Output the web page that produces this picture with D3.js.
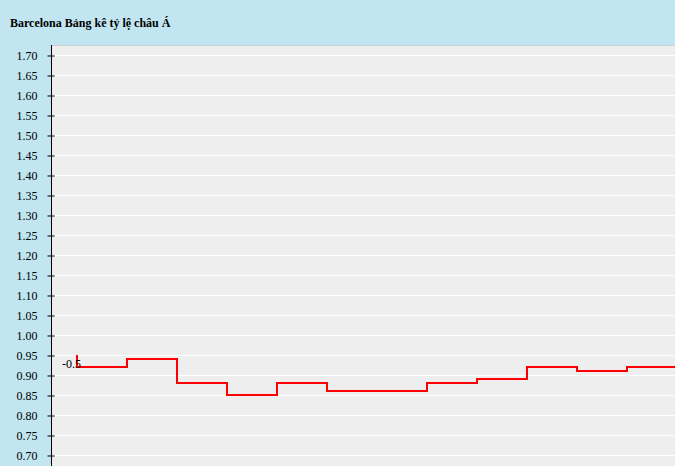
<!DOCTYPE html>
<html>
<head>
<meta charset="utf-8">
<script src="https://cdn.jsdelivr.net/npm/d3@7"></script>
<style>
  html, body { margin: 0; padding: 0; }
  body { width: 675px; height: 466px; overflow: hidden; background: #c1e6f1; }
  svg { display: block; }
</style>
</head>
<body>
<svg id="chart" width="675" height="466"></svg>
<script>
// ---- data ----
const chartTitle = "Barcelona Bảng kê tỷ lệ châu Á";
const handicapLabels = ["-0.5"];
const stepIndex = [0, 1, 2, 3, 4, 5, 6, 7, 8, 9, 10, 11, 12];
const oddsValues = [0.95, 0.92, 0.94, 0.88, 0.85, 0.88, 0.86, 0.86, 0.88, 0.89, 0.92, 0.91, 0.92];
const yTickValues = [0.70, 0.75, 0.80, 0.85, 0.90, 0.95, 1.00, 1.05, 1.10, 1.15, 1.20, 1.25, 1.30, 1.35, 1.40, 1.45, 1.50, 1.55, 1.60, 1.65, 1.70];

// ---- layout ----
const W = 675, H = 466;
const plotLeft = 52, plotTop = 45;
const svg = d3.select("#chart");

// header title
svg.append("text")
  .attr("x", 10).attr("y", 27)
  .attr("font-family", "'Liberation Serif', 'Times New Roman', serif")
  .attr("font-weight", "bold").attr("font-size", 12)
  .attr("fill", "#000")
  .text(chartTitle);

// plot background
svg.append("rect")
  .attr("x", plotLeft).attr("y", plotTop)
  .attr("width", W - plotLeft).attr("height", H - plotTop)
  .attr("fill", "#eeeeee");
svg.append("line")
  .attr("x1", plotLeft).attr("x2", W)
  .attr("y1", plotTop + 0.5).attr("y2", plotTop + 0.5)
  .attr("stroke", "#c8cfd2").attr("stroke-width", 1);

// scales
const y = d3.scaleLinear().domain([0.70, 1.70]).range([455, 55]);
const x = d3.scaleLinear().domain([0, 12]).range([77, 677]);

// gridlines
svg.append("g").selectAll("line")
  .data(yTickValues)
  .join("line")
  .attr("x1", plotLeft).attr("x2", W)
  .attr("y1", d => Math.round(y(d)) + 0.5).attr("y2", d => Math.round(y(d)) + 0.5)
  .attr("stroke", "#ffffff").attr("stroke-width", 1);

// y axis
const axisG = svg.append("g")
  .attr("transform", "translate(51.5,0.5)")
  .call(d3.axisLeft(y).tickValues(yTickValues).tickFormat(d3.format(".2f")).tickSize(4).tickPadding(10));
axisG.select(".domain").remove();
axisG.selectAll(".tick line").attr("x1", -4).attr("x2", 3).attr("stroke", "#000");
axisG.selectAll(".tick text")
  .attr("font-family", "'Liberation Serif', 'Times New Roman', serif")
  .attr("font-size", 12).attr("fill", "#000");
svg.append("line")
  .attr("x1", 51.5).attr("x2", 51.5)
  .attr("y1", plotTop).attr("y2", H)
  .attr("stroke", "#000").attr("stroke-width", 1);

// step line
const line = d3.line()
  .x((d, i) => x(stepIndex[i]))
  .y(d => y(d))
  .curve(d3.curveStepBefore);
svg.append("path")
  .datum(oddsValues)
  .attr("d", line)
  .attr("fill", "none")
  .attr("stroke", "#ff0000")
  .attr("stroke-width", 2);

// handicap label
svg.append("text")
  .attr("x", x(stepIndex[0]) - 15).attr("y", y(oddsValues[1]) + 1)
  .attr("font-family", "'Liberation Serif', 'Times New Roman', serif")
  .attr("font-size", 12).attr("fill", "#000")
  .text(handicapLabels[0]);
</script>
</body>
</html>
